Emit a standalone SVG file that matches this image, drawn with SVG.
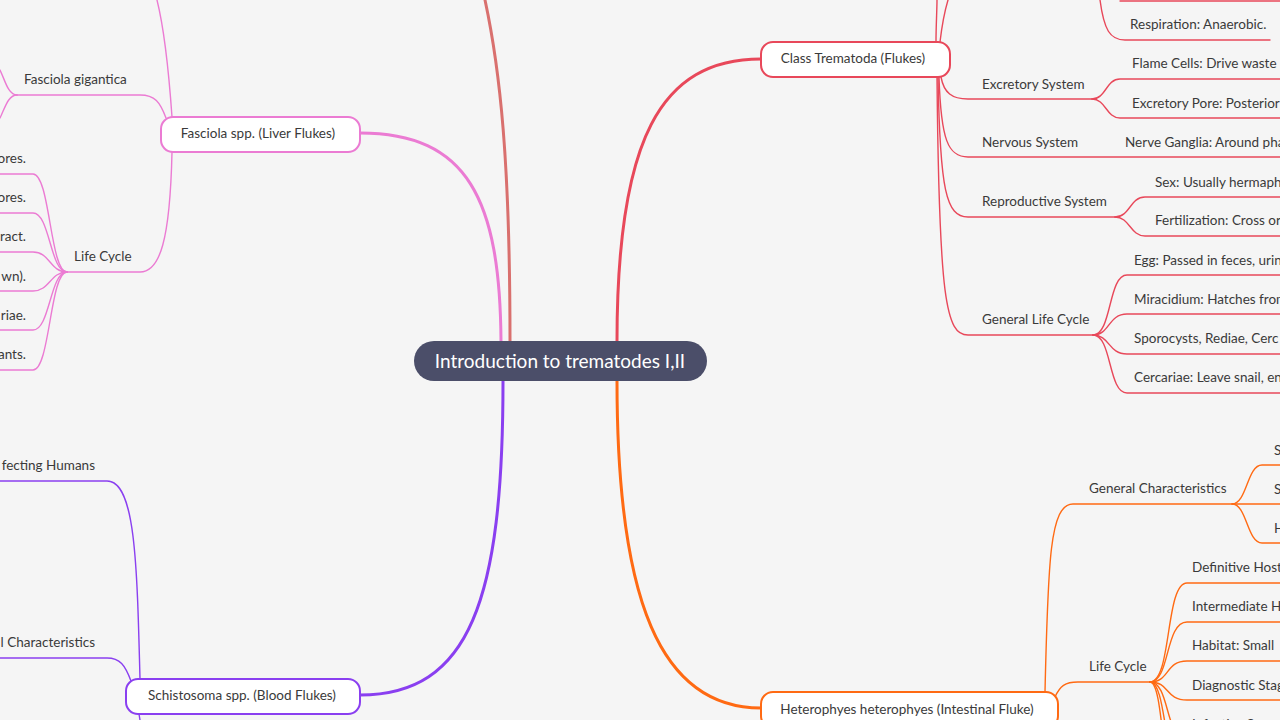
<svg xmlns="http://www.w3.org/2000/svg" width="1280" height="720" viewBox="0 0 1280 720">
<style>
text{font-family:Lato,"Noto Sans","Liberation Sans",sans-serif;font-size:13.5px;fill:#3a3a3a}
.title{font-size:19px;fill:#ffffff}
.c{fill:none;stroke-linecap:round}
.main{stroke-width:3}
.sub{stroke-width:1.4}
.pink{stroke:#eb7bd3}
.salmon{stroke:#d9706e}
.red{stroke:#e8485a}
.orange{stroke:#ff6a13}
.purple{stroke:#8a3ff0}
.box{fill:#ffffff;stroke-width:2}
.end{text-anchor:end}
.mid{text-anchor:middle}
</style>
<rect width="1280" height="720" fill="#f5f5f5"/>
<g id="connectors">
  <!-- main branches -->
  <path class="c main pink" d="M501 341 C500 200 468 133 360 133"/>
  <path class="c main salmon" d="M510 341 C510 160 500 70 485 0"/>
  <path class="c main red" d="M617 341 C617 140 660 59 761 59"/>
  <path class="c main orange" d="M617 381 C617 600 660 708 761 708"/>
  <path class="c main purple" d="M503 381 C503 600 470 695 360 695"/>
  <!-- Trematoda -->
  <path class="c sub red" d="M936 42 C936 25 937 10 937 0"/>
  <path class="c sub red" d="M940 42 C942 25 945 10 948 0"/>
  <path class="c sub red" d="M1100 0 C1104 30 1110 40 1125 40 L1270 40"/>
  <path class="c sub red" d="M1120 1 L1280 1"/>
  <path class="c sub red" d="M941 77 C944 93 952 99 968 99 L1092 99"/>
  <path class="c sub red" d="M1092 99 C1106 99 1106 79 1120 79 L1280 79"/>
  <path class="c sub red" d="M1092 99 C1106 99 1106 118 1120 118 L1280 118"/>
  <path class="c sub red" d="M939 77 C941 140 948 157 968 157 L1280 157"/>
  <path class="c sub red" d="M938 77 C940 190 946 217 968 217 L1115 217"/>
  <path class="c sub red" d="M1115 217 C1130 217 1130 197 1145 197 L1280 197"/>
  <path class="c sub red" d="M1115 217 C1130 217 1130 236 1145 236 L1280 236"/>
  <path class="c sub red" d="M937 77 C939 300 946 335 968 335 L1093 335"/>
  <path class="c sub red" d="M1093 335 C1112 335 1108 275 1127 275 L1280 275"/>
  <path class="c sub red" d="M1093 335 C1110 335 1108 314 1127 314 L1280 314"/>
  <path class="c sub red" d="M1093 335 C1110 335 1108 354 1127 354 L1280 354"/>
  <path class="c sub red" d="M1093 335 C1112 335 1108 393 1127 393 L1280 393"/>
  <!-- Heterophyes -->
  <path class="c sub orange" d="M1045 692 C1048 560 1050 504 1073 504 L1232 504 L1280 504"/>
  <path class="c sub orange" d="M1232 504 C1247 504 1247 465 1262 465 L1280 465"/>
  <path class="c sub orange" d="M1232 504 C1247 504 1247 543 1262 543 L1280 543"/>
  <path class="c sub orange" d="M1055 697 C1060 686 1065 682 1078 682 L1150 682"/>
  <path class="c sub orange" d="M1150 682 C1172 682 1165 583 1187 583 L1280 583"/>
  <path class="c sub orange" d="M1150 682 C1170 682 1165 622 1187 622 L1280 622"/>
  <path class="c sub orange" d="M1150 682 C1170 682 1165 661 1187 661 L1280 661"/>
  <path class="c sub orange" d="M1150 682 C1170 682 1165 700 1187 700 L1280 700"/>
  <path class="c sub orange" d="M1150 682 C1170 682 1165 740 1187 740 L1280 740"/>
  <path class="c sub orange" d="M1150 682 C1168 682 1163 780 1187 780"/>
  <path class="c sub orange" d="M1150 682 C1166 682 1161 820 1187 820"/>
  <!-- Fasciola -->
  <path class="c sub pink" d="M172 117 C168 60 162 20 157 0"/>
  <path class="c sub pink" d="M166 118 C160 102 155 95 140 95 L17 95"/>
  <path class="c sub pink" d="M17 95 C8 95 5 80 0 70"/>
  <path class="c sub pink" d="M17 95 C8 95 5 108 0 118"/>
  <path class="c sub pink" d="M172 152 C170 240 160 272 140 272 L67 272"/>
  <path class="c sub pink" d="M67 272 C50 272 50 174 33 174 L0 174"/>
  <path class="c sub pink" d="M67 272 C50 272 50 213 33 213 L0 213"/>
  <path class="c sub pink" d="M67 272 C50 272 50 252 33 252 L0 252"/>
  <path class="c sub pink" d="M67 272 C50 272 50 291 33 291 L0 291"/>
  <path class="c sub pink" d="M67 272 C50 272 50 330 33 330 L0 330"/>
  <path class="c sub pink" d="M67 272 C50 272 50 370 33 370 L0 370"/>
  <!-- Schistosoma -->
  <path class="c sub purple" d="M140 679 C137 560 135 481 107 481 L0 481"/>
  <path class="c sub purple" d="M131 681 C125 665 120 658 107 658 L0 658"/>
  <path class="c sub purple" d="M139 714 L140 720"/>
</g>
<g id="root">
  <rect x="414" y="341" width="293" height="40" rx="20" fill="#4b4e69"/>
  <text class="title mid" x="560" y="368">Introduction to trematodes I,II</text>
</g>
<g id="trematoda">
  <rect class="box" x="761" y="42" width="189" height="35" rx="12" stroke="#e8485a"/>
  <text class="mid" x="853" y="63">Class Trematoda (Flukes)</text>
</g>
<g id="fasciola">
  <rect class="box" x="161" y="117" width="199" height="35" rx="12" stroke="#eb7bd3"/>
  <text class="mid" x="258" y="138">Fasciola spp. (Liver Flukes)</text>
</g>
<g id="schistosoma">
  <rect class="box" x="126" y="679" width="234" height="35" rx="12" stroke="#8a3ff0"/>
  <text class="mid" x="242" y="700">Schistosoma spp. (Blood Flukes)</text>
</g>
<g id="heterophyes">
  <rect class="box" x="761" y="692" width="297" height="36" rx="12" stroke="#ff6a13"/>
  <text class="mid" x="907" y="714">Heterophyes heterophyes (Intestinal Fluke)</text>
</g>
<g id="trematoda-items">
  <g id="respiration"><text x="1130" y="29">Respiration: Anaerobic.</text></g>
  <g id="excretory"><text x="982" y="89">Excretory System</text></g>
  <g id="flame"><text x="1132" y="68">Flame Cells: Drive waste p</text></g>
  <g id="pore"><text x="1132" y="108">Excretory Pore: Posterior</text></g>
  <g id="nervous"><text x="982" y="147">Nervous System</text></g>
  <g id="ganglia"><text x="1125" y="147">Nerve Ganglia: Around pha</text></g>
  <g id="reproductive"><text x="982" y="206">Reproductive System</text></g>
  <g id="sex"><text x="1155" y="187">Sex: Usually hermaph</text></g>
  <g id="fertilization"><text x="1155" y="225">Fertilization: Cross or</text></g>
  <g id="glc"><text x="982" y="324">General Life Cycle</text></g>
  <g id="egg"><text x="1134" y="265">Egg: Passed in feces, urin</text></g>
  <g id="miracidium"><text x="1134" y="304">Miracidium: Hatches from</text></g>
  <g id="sporocysts"><text x="1134" y="343">Sporocysts, Rediae, Cerc</text></g>
  <g id="cercariae"><text x="1134" y="382">Cercariae: Leave snail, en</text></g>
</g>
<g id="heterophyes-items">
  <g id="het-gc"><text x="1089" y="493">General Characteristics</text></g>
  <g id="het-s1"><text x="1274" y="455">S</text></g>
  <g id="het-s2"><text x="1274" y="494">S</text></g>
  <g id="het-h"><text x="1274" y="533">H</text></g>
  <g id="het-lc"><text x="1089" y="671">Life Cycle</text></g>
  <g id="het-def"><text x="1192" y="572">Definitive Host</text></g>
  <g id="het-int"><text x="1192" y="611">Intermediate H</text></g>
  <g id="het-hab"><text x="1192" y="650">Habitat: Small</text></g>
  <g id="het-diag"><text x="1192" y="690">Diagnostic Stag</text></g>
  <g id="het-inf"><text x="1192" y="729">Infective Stage</text></g>
</g>
<g id="fasciola-items">
  <g id="gigantica"><text x="24" y="84">Fasciola gigantica</text></g>
  <g id="fas-lc"><text x="74" y="261">Life Cycle</text></g>
  <g id="fas-l1"><text class="end" x="26" y="163">ores.</text></g>
  <g id="fas-l2"><text class="end" x="26" y="202">ores.</text></g>
  <g id="fas-l3"><text class="end" x="26" y="241">ract.</text></g>
  <g id="fas-l4"><text class="end" x="26" y="281">wn).</text></g>
  <g id="fas-l5"><text class="end" x="26" y="320">riae.</text></g>
  <g id="fas-l6"><text class="end" x="26" y="359">ants.</text></g>
</g>
<g id="schistosoma-items">
  <g id="sch-inf"><text class="end" x="95" y="470">fecting Humans</text></g>
  <g id="sch-gc"><text class="end" x="95" y="647">l Characteristics</text></g>
</g>
</svg>
